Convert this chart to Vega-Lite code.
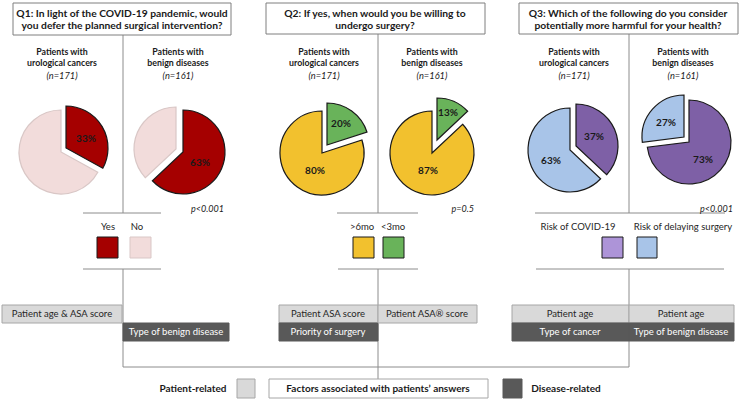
{
  "$schema": "https://vega.github.io/schema/vega-lite/v6.json",
  "width": 740,
  "height": 402,
  "padding": 0,
  "autosize": {"type": "fit", "contains": "padding"},
  "background": "white",
  "config": {"view": {"stroke": null}, "text": {"font": "Lato"}},
  "datasets": {
    "lines": [
      {"x1": 123, "y1": 35, "x2": 123, "y2": 213},
      {"x1": 83, "y1": 213, "x2": 161, "y2": 213},
      {"x1": 83, "y1": 269, "x2": 161, "y2": 269},
      {"x1": 123, "y1": 269, "x2": 123, "y2": 367},
      {"x1": 378, "y1": 34, "x2": 378, "y2": 213},
      {"x1": 337, "y1": 213, "x2": 418, "y2": 213},
      {"x1": 338, "y1": 269, "x2": 418, "y2": 269},
      {"x1": 378, "y1": 269, "x2": 378, "y2": 379},
      {"x1": 629, "y1": 34, "x2": 629, "y2": 213},
      {"x1": 535, "y1": 213, "x2": 725, "y2": 213},
      {"x1": 536, "y1": 269, "x2": 724, "y2": 269},
      {"x1": 629, "y1": 269, "x2": 629, "y2": 367},
      {"x1": 123, "y1": 367, "x2": 629, "y2": 367}
    ],
    "boxes": [
      {"key": "question", "x1": 13, "y1": 3, "x2": 231, "y2": 35},
      {"key": "question", "x1": 266, "y1": 3, "x2": 485, "y2": 34},
      {"key": "question", "x1": 519, "y1": 3, "x2": 738, "y2": 34},
      {"key": "patient", "x1": 2, "y1": 305, "x2": 122, "y2": 323},
      {"key": "disease", "x1": 123, "y1": 323, "x2": 229, "y2": 341},
      {"key": "patient", "x1": 279, "y1": 305, "x2": 378, "y2": 323},
      {"key": "disease", "x1": 279, "y1": 323, "x2": 378, "y2": 341},
      {"key": "patient", "x1": 378, "y1": 305, "x2": 477, "y2": 323},
      {"key": "patient", "x1": 512, "y1": 305, "x2": 629, "y2": 323},
      {"key": "patient", "x1": 629, "y1": 305, "x2": 734, "y2": 323},
      {"key": "disease", "x1": 512, "y1": 323, "x2": 629, "y2": 341},
      {"key": "disease", "x1": 629, "y1": 323, "x2": 734, "y2": 341},
      {"key": "patient", "x1": 237, "y1": 379, "x2": 255, "y2": 398},
      {"key": "factors", "x1": 269, "y1": 379, "x2": 488, "y2": 398},
      {"key": "disease", "x1": 503, "y1": 379, "x2": 522, "y2": 398},
      {"key": "Yes", "x1": 97, "y1": 237, "x2": 118, "y2": 258},
      {"key": "No", "x1": 130, "y1": 237, "x2": 151, "y2": 258},
      {"key": ">6mo", "x1": 353, "y1": 237, "x2": 374, "y2": 258},
      {"key": "<3mo", "x1": 383, "y1": 237, "x2": 404, "y2": 258},
      {"key": "COVID legend", "x1": 602, "y1": 237, "x2": 623, "y2": 258},
      {"key": "Delay", "x1": 637, "y1": 237, "x2": 657, "y2": 258}
    ],
    "pies": [
      {"pie": "Q1 uro", "key": "Yes", "pct": 33, "ord": 1, "cx": 66, "cy": 148},
      {"pie": "Q1 uro", "key": "No", "pct": 67, "ord": 2, "cx": 61, "cy": 152},
      {"pie": "Q1 ben", "key": "Yes", "pct": 63, "ord": 1, "cx": 183, "cy": 152},
      {"pie": "Q1 ben", "key": "No", "pct": 37, "ord": 2, "cx": 176, "cy": 149},
      {"pie": "Q2 uro", "key": "<3mo", "pct": 20, "ord": 1, "cx": 327, "cy": 145},
      {"pie": "Q2 uro", "key": ">6mo", "pct": 80, "ord": 2, "cx": 322, "cy": 153},
      {"pie": "Q2 ben", "key": "<3mo", "pct": 13, "ord": 1, "cx": 437, "cy": 140},
      {"pie": "Q2 ben", "key": ">6mo", "pct": 87, "ord": 2, "cx": 432, "cy": 153},
      {"pie": "Q3 uro", "key": "COVID", "pct": 37, "ord": 1, "cx": 576, "cy": 146},
      {"pie": "Q3 uro", "key": "Delay", "pct": 63, "ord": 2, "cx": 570, "cy": 150},
      {"pie": "Q3 ben", "key": "COVID", "pct": 73, "ord": 1, "cx": 689, "cy": 142},
      {"pie": "Q3 ben", "key": "Delay", "pct": 27, "ord": 2, "cx": 684, "cy": 137}
    ],
    "texts": [
      {"role": "title", "text": "Q1: In light of the COVID-19 pandemic, would", "x": 122, "y": 13.5},
      {"role": "title", "text": "you defer the planned surgical intervention?", "x": 122, "y": 25.5},
      {"role": "title", "text": "Q2: If yes, when would you be willing to", "x": 375, "y": 13.5},
      {"role": "title", "text": "undergo surgery?", "x": 375, "y": 25.5},
      {"role": "title", "text": "Q3: Which of the following do you consider", "x": 628, "y": 13.5},
      {"role": "title", "text": "potentially more harmful for your health?", "x": 628, "y": 25.5},
      {"role": "group", "text": "Patients with", "x": 62, "y": 52},
      {"role": "group", "text": "urological cancers", "x": 62, "y": 63},
      {"role": "n", "text": "(n=171)", "x": 62, "y": 76},
      {"role": "group", "text": "Patients with", "x": 178, "y": 52},
      {"role": "group", "text": "benign diseases", "x": 178, "y": 63},
      {"role": "n", "text": "(n=161)", "x": 178, "y": 76},
      {"role": "group", "text": "Patients with", "x": 324, "y": 52},
      {"role": "group", "text": "urological cancers", "x": 324, "y": 63},
      {"role": "n", "text": "(n=171)", "x": 324, "y": 76},
      {"role": "group", "text": "Patients with", "x": 432, "y": 52},
      {"role": "group", "text": "benign diseases", "x": 432, "y": 63},
      {"role": "n", "text": "(n=161)", "x": 432, "y": 76},
      {"role": "group", "text": "Patients with", "x": 574, "y": 52},
      {"role": "group", "text": "urological cancers", "x": 574, "y": 63},
      {"role": "n", "text": "(n=171)", "x": 574, "y": 76},
      {"role": "group", "text": "Patients with", "x": 683, "y": 52},
      {"role": "group", "text": "benign diseases", "x": 683, "y": 63},
      {"role": "n", "text": "(n=161)", "x": 683, "y": 76},
      {"role": "pct", "text": "33%", "x": 86, "y": 139},
      {"role": "pct", "text": "63%", "x": 200, "y": 163},
      {"role": "pct", "text": "20%", "x": 341, "y": 124},
      {"role": "pct", "text": "80%", "x": 315, "y": 171},
      {"role": "pct", "text": "13%", "x": 448, "y": 113},
      {"role": "pct", "text": "87%", "x": 428, "y": 171},
      {"role": "pct", "text": "37%", "x": 594, "y": 137},
      {"role": "pct", "text": "63%", "x": 551, "y": 161},
      {"role": "pct", "text": "27%", "x": 666, "y": 123},
      {"role": "pct", "text": "73%", "x": 703, "y": 160},
      {"role": "p", "text": "p<0.001", "x": 224, "y": 209},
      {"role": "p", "text": "p=0.5", "x": 474, "y": 209},
      {"role": "p", "text": "p<0.001", "x": 733, "y": 209},
      {"role": "legend", "text": "Yes", "x": 108, "y": 227},
      {"role": "legend", "text": "No", "x": 137, "y": 227},
      {"role": "legend", "text": ">6mo", "x": 362, "y": 227},
      {"role": "legend", "text": "<3mo", "x": 393, "y": 227},
      {"role": "legend", "text": "Risk of COVID-19", "x": 578, "y": 227},
      {"role": "legend", "text": "Risk of delaying surgery", "x": 683, "y": 227},
      {"role": "light", "text": "Patient age & ASA score", "x": 62, "y": 314},
      {"role": "light", "text": "Patient ASA score", "x": 328, "y": 314},
      {"role": "light", "text": "Patient ASA® score", "x": 427, "y": 314},
      {"role": "light", "text": "Patient age", "x": 570, "y": 314},
      {"role": "light", "text": "Patient age", "x": 681, "y": 314},
      {"role": "dark", "text": "Type of benign disease", "x": 176, "y": 332},
      {"role": "dark", "text": "Priority of surgery", "x": 328, "y": 332},
      {"role": "dark", "text": "Type of cancer", "x": 570, "y": 332},
      {"role": "dark", "text": "Type of benign disease", "x": 681, "y": 332},
      {"role": "key", "text": "Patient-related", "x": 193, "y": 389},
      {"role": "key", "text": "Factors associated with patients’ answers", "x": 378, "y": 389},
      {"role": "key", "text": "Disease-related", "x": 566, "y": 389}
    ]
  },
  "layer": [
    {
      "data": {"name": "lines"},
      "mark": {"type": "rule", "color": "#8c8c8c", "strokeWidth": 1},
      "encoding": {
        "x": {"field": "x1", "type": "quantitative", "scale": {"domain": [0, 740], "nice": false, "zero": false}, "axis": null},
        "y": {"field": "y1", "type": "quantitative", "scale": {"domain": [0, 402], "reverse": true, "nice": false, "zero": false}, "axis": null},
        "x2": {"field": "x2"},
        "y2": {"field": "y2"}
      }
    },
    {
      "data": {"name": "boxes"},
      "mark": {"type": "rect", "strokeWidth": 1},
      "encoding": {
        "x": {"field": "x1", "type": "quantitative", "scale": {"domain": [0, 740], "nice": false, "zero": false}, "axis": null},
        "y": {"field": "y1", "type": "quantitative", "scale": {"domain": [0, 402], "reverse": true, "nice": false, "zero": false}, "axis": null},
        "x2": {"field": "x2"},
        "y2": {"field": "y2"},
        "fill": {"field": "key", "type": "nominal", "legend": null,
          "scale": {"domain": ["Yes", "No", ">6mo", "<3mo", "COVID", "Delay", "COVID legend", "question", "patient", "disease", "factors"],
                    "range": ["#a50000", "#f2dcdb", "#f2c12e", "#69b35a", "#7e60a6", "#a8c4e8", "#ad94d8", "#ffffff", "#d9d9d9", "#595959", "#ffffff"]}},
        "stroke": {"field": "key", "type": "nominal", "legend": null,
          "scale": {"domain": ["Yes", "No", ">6mo", "<3mo", "COVID", "Delay", "COVID legend", "question", "patient", "disease", "factors"],
                    "range": ["#1a1a1a", "#d9c7c6", "#1a1a1a", "#1a1a1a", "#1a1a1a", "#1a1a1a", "#1a1a1a", "#7f7f7f", "#a6a6a6", "#595959", "#a6a6a6"]}}
      }
    },
    {
      "data": {"name": "pies"},
      "transform": [
        {"stack": "pct", "groupby": ["pie"], "sort": [{"field": "ord"}], "as": ["t0", "t1"]}
      ],
      "mark": {"type": "arc", "outerRadius": 42, "strokeWidth": 1.2},
      "encoding": {
        "x": {"field": "cx", "type": "quantitative", "scale": {"domain": [0, 740], "nice": false, "zero": false}, "axis": null},
        "y": {"field": "cy", "type": "quantitative", "scale": {"domain": [0, 402], "reverse": true, "nice": false, "zero": false}, "axis": null},
        "theta": {"field": "t0", "type": "quantitative", "stack": null, "scale": {"domain": [0, 100], "range": [0, 6.283185307], "zero": true, "nice": false}},
        "theta2": {"field": "t1"},
        "fill": {"field": "key", "type": "nominal", "legend": null,
          "scale": {"domain": ["Yes", "No", ">6mo", "<3mo", "COVID", "Delay", "COVID legend", "question", "patient", "disease", "factors"],
                    "range": ["#a50000", "#f2dcdb", "#f2c12e", "#69b35a", "#7e60a6", "#a8c4e8", "#ad94d8", "#ffffff", "#d9d9d9", "#595959", "#ffffff"]}},
        "stroke": {"field": "key", "type": "nominal", "legend": null,
          "scale": {"domain": ["Yes", "No", ">6mo", "<3mo", "COVID", "Delay", "COVID legend", "question", "patient", "disease", "factors"],
                    "range": ["#1a1a1a", "#d9c7c6", "#1a1a1a", "#1a1a1a", "#1a1a1a", "#1a1a1a", "#1a1a1a", "#7f7f7f", "#a6a6a6", "#595959", "#a6a6a6"]}}
      }
    },
    {
      "data": {"name": "texts"},
      "transform": [{"filter": "datum.role === 'title'"}],
      "mark": {"type": "text", "fontWeight": "bold", "fontSize": 10.3, "color": "#1a1a1a"},
      "encoding": {
        "x": {"field": "x", "type": "quantitative", "scale": {"domain": [0, 740], "nice": false, "zero": false}, "axis": null},
        "y": {"field": "y", "type": "quantitative", "scale": {"domain": [0, 402], "reverse": true, "nice": false, "zero": false}, "axis": null},
        "text": {"field": "text"}
      }
    },
    {
      "data": {"name": "texts"},
      "transform": [{"filter": "datum.role === 'group'"}],
      "mark": {"type": "text", "fontWeight": "bold", "fontSize": 8.8, "color": "#1a1a1a"},
      "encoding": {
        "x": {"field": "x", "type": "quantitative", "scale": {"domain": [0, 740], "nice": false, "zero": false}, "axis": null},
        "y": {"field": "y", "type": "quantitative", "scale": {"domain": [0, 402], "reverse": true, "nice": false, "zero": false}, "axis": null},
        "text": {"field": "text"}
      }
    },
    {
      "data": {"name": "texts"},
      "transform": [{"filter": "datum.role === 'key'"}],
      "mark": {"type": "text", "fontWeight": "bold", "fontSize": 10, "color": "#1a1a1a"},
      "encoding": {
        "x": {"field": "x", "type": "quantitative", "scale": {"domain": [0, 740], "nice": false, "zero": false}, "axis": null},
        "y": {"field": "y", "type": "quantitative", "scale": {"domain": [0, 402], "reverse": true, "nice": false, "zero": false}, "axis": null},
        "text": {"field": "text"}
      }
    },
    {
      "data": {"name": "texts"},
      "transform": [{"filter": "datum.role === 'n'"}],
      "mark": {"type": "text", "fontStyle": "italic", "fontSize": 9.3, "color": "#1a1a1a"},
      "encoding": {
        "x": {"field": "x", "type": "quantitative", "scale": {"domain": [0, 740], "nice": false, "zero": false}, "axis": null},
        "y": {"field": "y", "type": "quantitative", "scale": {"domain": [0, 402], "reverse": true, "nice": false, "zero": false}, "axis": null},
        "text": {"field": "text"}
      }
    },
    {
      "data": {"name": "texts"},
      "transform": [{"filter": "datum.role === 'pct'"}],
      "mark": {"type": "text", "fontWeight": "bold", "fontSize": 10, "color": "#1a1a1a"},
      "encoding": {
        "x": {"field": "x", "type": "quantitative", "scale": {"domain": [0, 740], "nice": false, "zero": false}, "axis": null},
        "y": {"field": "y", "type": "quantitative", "scale": {"domain": [0, 402], "reverse": true, "nice": false, "zero": false}, "axis": null},
        "text": {"field": "text"}
      }
    },
    {
      "data": {"name": "texts"},
      "transform": [{"filter": "datum.role === 'p'"}],
      "mark": {"type": "text", "fontStyle": "italic", "fontSize": 9, "align": "right", "color": "#1a1a1a"},
      "encoding": {
        "x": {"field": "x", "type": "quantitative", "scale": {"domain": [0, 740], "nice": false, "zero": false}, "axis": null},
        "y": {"field": "y", "type": "quantitative", "scale": {"domain": [0, 402], "reverse": true, "nice": false, "zero": false}, "axis": null},
        "text": {"field": "text"}
      }
    },
    {
      "data": {"name": "texts"},
      "transform": [{"filter": "datum.role === 'legend' || datum.role === 'light'"}],
      "mark": {"type": "text", "fontSize": 9.5, "color": "#262626"},
      "encoding": {
        "x": {"field": "x", "type": "quantitative", "scale": {"domain": [0, 740], "nice": false, "zero": false}, "axis": null},
        "y": {"field": "y", "type": "quantitative", "scale": {"domain": [0, 402], "reverse": true, "nice": false, "zero": false}, "axis": null},
        "text": {"field": "text"}
      }
    },
    {
      "data": {"name": "texts"},
      "transform": [{"filter": "datum.role === 'dark'"}],
      "mark": {"type": "text", "fontSize": 9.5, "color": "#ffffff"},
      "encoding": {
        "x": {"field": "x", "type": "quantitative", "scale": {"domain": [0, 740], "nice": false, "zero": false}, "axis": null},
        "y": {"field": "y", "type": "quantitative", "scale": {"domain": [0, 402], "reverse": true, "nice": false, "zero": false}, "axis": null},
        "text": {"field": "text"}
      }
    }
  ]
}
